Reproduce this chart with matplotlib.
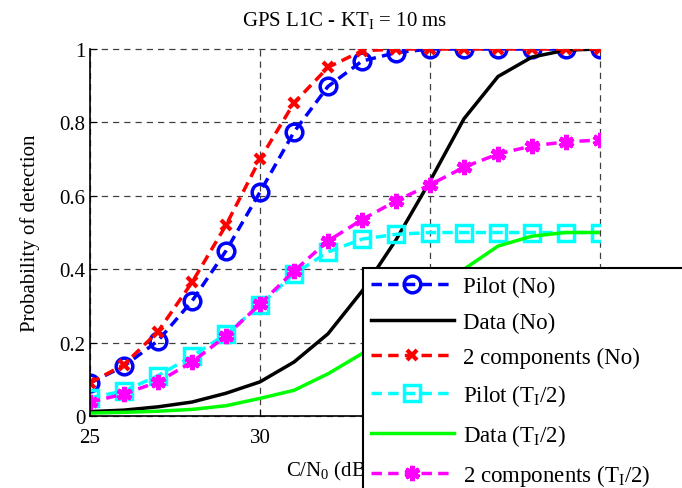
import matplotlib
matplotlib.use("Agg")
from matplotlib import pyplot as plt

plt.rcParams['font.family'] = ['Liberation Serif', 'DejaVu Serif']
plt.rcParams['mathtext.fontset'] = 'custom'
plt.rcParams['mathtext.rm'] = 'Liberation Serif'
plt.rcParams['mathtext.it'] = 'Liberation Serif:italic'

cn0 = [25, 26, 27, 28, 29, 30, 31, 32, 33, 34, 35, 36, 37, 38, 39, 40]

pilot_no = [0.09, 0.136, 0.205, 0.313, 0.45, 0.61, 0.774, 0.898, 0.967, 0.99,
            1.0, 1.0, 1.0, 1.0, 1.0, 1.0]
data_no = [0.012, 0.016, 0.025, 0.038, 0.062, 0.093, 0.147, 0.224, 0.34, 0.48,
           0.64, 0.81, 0.925, 0.978, 0.997, 1.0]
both_no = [0.09, 0.14, 0.23, 0.364, 0.52, 0.70, 0.853, 0.95, 0.995, 1.0,
           1.0, 1.0, 1.0, 1.0, 1.0, 1.0]
pilot_half = [0.05, 0.068, 0.11, 0.163, 0.223, 0.302, 0.387, 0.447, 0.482, 0.495,
              0.5, 0.5, 0.5, 0.5, 0.5, 0.5]
data_half = [0.008, 0.01, 0.013, 0.018, 0.028, 0.048, 0.07, 0.115, 0.17, 0.24,
             0.32, 0.40, 0.463, 0.49, 0.5, 0.5]
both_half = [0.038, 0.06, 0.093, 0.147, 0.218, 0.305, 0.395, 0.477, 0.535, 0.586,
             0.63, 0.678, 0.714, 0.736, 0.747, 0.752]

labels = ['Pilot (No)', 'Data (No)', '2 components (No)',
          r'Pilot (T$_\mathrm{I}$/2)', r'Data (T$_\mathrm{I}$/2)',
          r'2 components (T$_\mathrm{I}$/2)']

fig = plt.figure(figsize=(6.82, 4.89), dpi=100)
ax = fig.add_axes([90 / 682, 1 - 417 / 489, 510 / 682, 367 / 489])

fs = 15
dash = (3, 1.8)
ax.plot(cn0, pilot_no, color='#0000ff', lw=2.5, dashes=dash, marker='o', ms=12,
        mfc='none', mew=2.5, label=labels[0])
ax.plot(cn0, data_no, color='black', lw=2.5, label=labels[1])
ax.plot(cn0, both_no, color='#ff0000', lw=2.5, dashes=dash, marker='x', ms=7,
        mew=3, label=labels[2])
ax.plot(cn0, pilot_half, color='#00ffff', lw=2.5, dashes=dash, marker='s', ms=11,
        mfc='none', mew=2.5, label=labels[3])
ax.plot(cn0, data_half, color='#00ff00', lw=2.5, label=labels[4])
ax.plot(cn0, both_half, color='#ff00ff', lw=2.5, dashes=dash, marker=(6, 2, 0),
        ms=11, mew=3.5, label=labels[5])

ax.set_xlim(25, 40)
ax.set_ylim(0, 1)
ax.set_xticks([25, 30, 35, 40])
ax.set_yticks([0, 0.2, 0.4, 0.6, 0.8, 1])
ax.set_yticklabels(['0', '0.2', '0.4', '0.6', '0.8', '1'])
ax.tick_params(direction='in', length=5, labelsize=fs, top=False, right=False)
ax.tick_params(axis='x', pad=9)
ax.spines['top'].set_visible(False)
ax.spines['right'].set_visible(False)
for s in ['left', 'bottom']:
    ax.spines[s].set_linewidth(1.2)
ax.grid(True, color='0.25', lw=0.9, linestyle=(0, (5, 4)))
for gl in ax.get_xgridlines() + ax.get_ygridlines():
    gl.set_clip_on(False)
ax.set_axisbelow(True)

ax.set_title(r'GPS L1C - KT$_\mathrm{I}$ = 10 ms', fontsize=fs, pad=17)
ax.set_xlabel(r'C/N$_0$ (dB-Hz)', fontsize=fs, labelpad=8)
ax.set_ylabel('Probability of detection', fontsize=fs, labelpad=14)

leg_top = 1 - 269 / 489
leg = ax.legend(loc='upper left', bbox_to_anchor=(363 / 682, -0.3, 0.5, leg_top + 0.3),
                bbox_transform=fig.transFigure, mode='expand', borderaxespad=0,
                fontsize=16.5, fancybox=False, framealpha=1, edgecolor='black',
                handlelength=3.6, handletextpad=0.4, labelspacing=0.62,
                borderpad=0.35)
leg.get_frame().set_linewidth(1.5)
leg.set_zorder(10)

fig.savefig('out.png', dpi=100)
